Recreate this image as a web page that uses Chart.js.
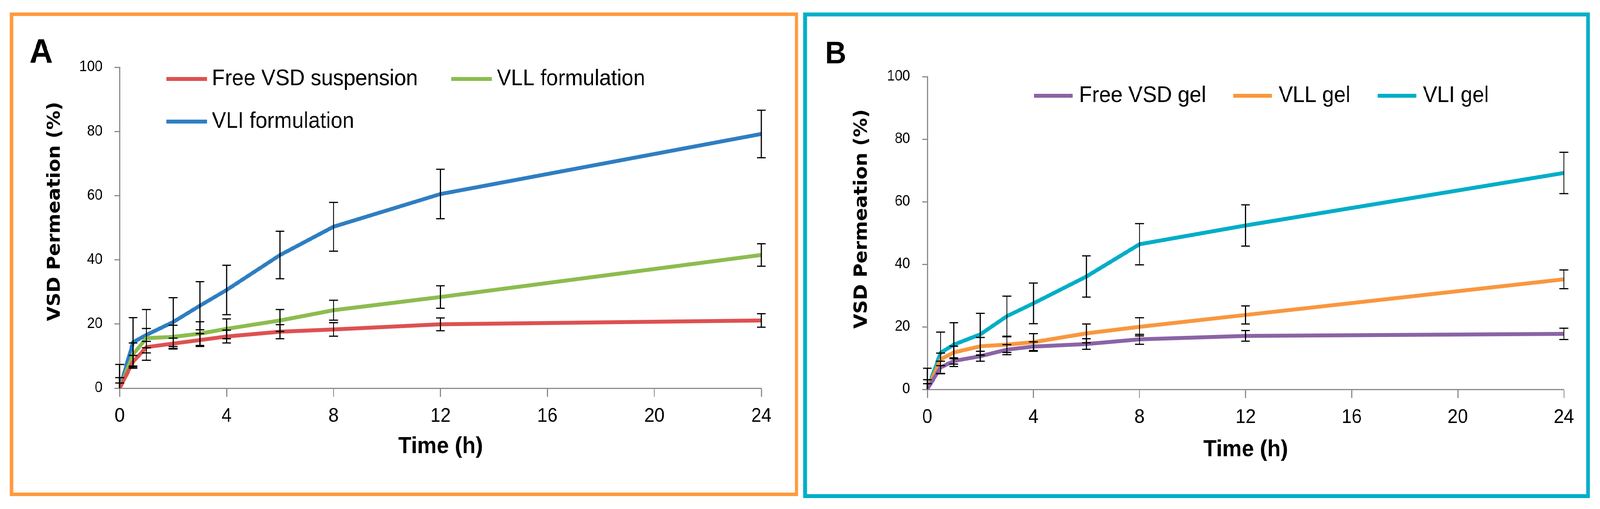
<!DOCTYPE html>
<html>
<head>
<meta charset="utf-8">
<script src="https://cdn.jsdelivr.net/npm/chart.js@4.4.1/dist/chart.umd.min.js"></script>
<style>
  html, body { margin: 0; padding: 0; background: #fff; overflow: hidden; }
  #stage { width: 4386px; height: 1302px; position: absolute; left: 0; top: 0; transform-origin: 0 0; background: #fff; }
  .panel { position: absolute; box-sizing: border-box; background: #fff; }
  #panelA { left: 27px; top: 32px; width: 2161px; height: 1237px; border: 9px solid #FF9A3C; }
  #panelB { left: 2202px; top: 32px; width: 2156px; height: 1242px; border: 10px solid #00AEC8; }
  canvas { display: block; }
</style>
</head>
<body>
<div id="stage">
  <div class="panel" id="panelA"><canvas id="chartA" width="2143" height="1219"></canvas></div>
  <div class="panel" id="panelB"><canvas id="chartB" width="2136" height="1222"></canvas></div>
</div>
<script>
// sampling times (h)
const timePoints = [0, 0.5, 1, 2, 3, 4, 6, 8, 12, 24];
const xTicks = [0, 4, 8, 12, 16, 20, 24];
const yTicks = [0, 20, 40, 60, 80, 100];

// panel A - formulations
const freeSuspension = [0, 8.2, 12.8, 13.9, 15.0, 16.1, 17.6, 18.3, 19.9, 21.1];
const freeSuspensionErr = [1.6, 2.0, 1.8, 1.7, 2.0, 2.0, 2.2, 2.1, 2.0, 2.1];
const vllFormulation = [0, 10.5, 15.6, 16.0, 17.0, 18.5, 21.1, 24.3, 28.4, 41.5];
const vllFormulationErr = [3.3, 3.6, 3.0, 3.6, 3.7, 3.1, 3.4, 3.1, 3.5, 3.5];
const vliFormulation = [0, 14.3, 16.6, 20.6, 25.7, 30.6, 41.5, 50.3, 60.5, 79.2];
const vliFormulationErr = [7.4, 7.7, 7.9, 7.6, 7.5, 7.7, 7.4, 7.6, 7.7, 7.4];

// panel B - gels
const freeGel = [0, 7.0, 9.1, 10.6, 12.7, 13.7, 14.5, 16.0, 17.1, 17.75];
const freeGelErr = [1.8, 2.0, 1.0, 1.6, 1.6, 1.5, 1.7, 1.6, 1.7, 1.8];
const vllGel = [0, 9.6, 11.8, 13.8, 14.3, 15.1, 17.9, 20.0, 23.8, 35.2];
const vllGelErr = [3.1, 2.0, 2.0, 2.8, 2.5, 2.7, 3.0, 2.9, 2.9, 3.0];
const vliGel = [0, 11.7, 14.3, 17.6, 23.4, 27.5, 36.1, 46.4, 52.4, 69.2];
const vliGelErr = [6.75, 6.6, 7.0, 6.7, 6.4, 6.5, 6.6, 6.6, 6.6, 6.6];

const AXIS_GREY = '#8c8c8c';

// the figure is laid out at 4386x1302, fit it to whatever the viewport really is
function fitStage() {
    const stage = document.getElementById('stage');
    const sx = window.innerWidth / 4386;
    const sy = window.innerHeight / 1302;
    stage.style.transform = 'scale(' + sx + ',' + sy + ')';
}

function toPoints(values) {
    return timePoints.map((t, i) => ({ x: t, y: values[i] }));
}

function lineSet(label, values, errors, color) {
    return {
        label: label,
        data: toPoints(values),
        errorBars: errors,
        borderColor: color,
        backgroundColor: color,
        borderWidth: 10,
        tension: 0,
        pointRadius: 0,
        fill: false
    };
}

// error bars, panel letter, rotated y title and the in-plot legend
const panelDecor = {
    id: 'panelDecor',
    afterDatasetsDraw(chart) {
        const ctx = chart.ctx;
        const xs = chart.scales.x, ys = chart.scales.y;
        ctx.save();
        ctx.strokeStyle = '#000';
        ctx.lineWidth = 3;
        chart.data.datasets.forEach((ds) => {
            if (!ds.errorBars) return;
            ds.data.forEach((p, j) => {
                const e = ds.errorBars[j];
                const px = xs.getPixelForValue(p.x);
                const lo = Math.max(p.y - e, ys.min);
                const top = ys.getPixelForValue(p.y + e);
                const bot = ys.getPixelForValue(lo);
                ctx.beginPath();
                ctx.moveTo(px, top); ctx.lineTo(px, bot);
                ctx.moveTo(px - 12, top); ctx.lineTo(px + 12, top);
                if (lo > ys.min) { ctx.moveTo(px - 12, bot); ctx.lineTo(px + 12, bot); }
                ctx.stroke();
            });
        });
        ctx.restore();
    },
    afterDraw(chart, args, opts) {
        const ctx = chart.ctx;
        ctx.save();
        ctx.fillStyle = '#000';

        // panel letter
        ctx.font = 'bold ' + opts.letterSize + 'px "Liberation Sans"';
        ctx.textAlign = 'left';
        ctx.textBaseline = 'alphabetic';
        ctx.fillText(opts.letter, opts.letterX, opts.letterY);

        // y axis title
        ctx.save();
        ctx.translate(opts.yTitleX, opts.yTitleY);
        ctx.rotate(-Math.PI / 2);
        ctx.font = 'bold 49px "DejaVu Sans"';
        ctx.textAlign = 'center';
        ctx.textBaseline = 'middle';
        ctx.fillText(opts.yTitle, 0, 0);
        ctx.restore();

        // legend
        const lg = opts.legend;
        ctx.font = '58px "Liberation Sans"';
        ctx.textAlign = 'left';
        ctx.textBaseline = 'middle';
        lg.rows.forEach((row, r) => {
            let x = lg.x;
            const y = lg.y + r * lg.rowGap;
            row.forEach((i) => {
                const ds = chart.data.datasets[i];
                ctx.strokeStyle = ds.borderColor;
                ctx.lineWidth = 10;
                ctx.beginPath();
                ctx.moveTo(x, y);
                ctx.lineTo(x + lg.sample, y);
                ctx.stroke();
                ctx.fillText(ds.label, x + lg.sample + lg.textGap, y);
                x += lg.sample + lg.textGap + ctx.measureText(ds.label).width + lg.itemGap;
            });
        });
        ctx.restore();
    }
};

function makeOptions(pad, yWidth, xHeight, titlePad, decor) {
    return {
        responsive: false,
        animation: false,
        devicePixelRatio: 1,
        layout: { padding: pad },
        plugins: {
            legend: { display: false },
            tooltip: { enabled: false },
            panelDecor: decor
        },
        scales: {
            x: {
                type: 'linear',
                min: xTicks[0],
                max: xTicks[xTicks.length - 1],
                afterBuildTicks: (s) => { s.ticks = xTicks.map(v => ({ value: v })); },
                ticks: { color: '#000', padding: 20, font: { family: 'Liberation Sans', size: 50 } },
                grid: { drawOnChartArea: false, tickLength: 22, tickColor: AXIS_GREY, tickWidth: 3 },
                border: { color: AXIS_GREY, width: 3 },
                title: {
                    display: true,
                    text: 'Time (h)',
                    color: '#000',
                    font: { family: 'Liberation Sans', size: 60, weight: 'bold', lineHeight: 1.2 },
                    padding: { top: 0, bottom: titlePad }
                },
                afterFit: (s) => { s.height = xHeight; }
            },
            y: {
                min: yTicks[0],
                max: yTicks[yTicks.length - 1],
                afterBuildTicks: (s) => { s.ticks = yTicks.map(v => ({ value: v })); },
                ticks: { color: '#000', padding: 33, font: { family: 'Liberation Sans', size: 38 } },
                grid: { drawOnChartArea: false, tickLength: 14, tickColor: AXIS_GREY, tickWidth: 3 },
                border: { color: AXIS_GREY, width: 3 },
                afterFit: (s) => { s.width = yWidth; }
            }
        }
    };
}

document.addEventListener('DOMContentLoaded', function () {
    fitStage();

    // A. Suspension / lipid formulations
    new Chart(document.getElementById('chartA').getContext('2d'), {
        type: 'line',
        data: {
            datasets: [
                lineSet('Free VSD suspension', freeSuspension, freeSuspensionErr, '#DD5151'),
                lineSet('VLL formulation', vllFormulation, vllFormulationErr, '#8DBC4F'),
                lineSet('VLI formulation', vliFormulation, vliFormulationErr, '#2E7EC2')
            ]
        },
        options: makeOptions({ left: 0, top: 131, right: 92, bottom: 0 }, 292, 267, 82, {
            letter: 'A', letterSize: 88, letterX: 45, letterY: 119,
            yTitle: 'VSD Permeation (%)', yTitleX: 115, yTitleY: 500,
            legend: { x: 420, y: 161, rowGap: 109, sample: 111, textGap: 14, itemGap: 92, rows: [[0, 1], [2]] }
        }),
        plugins: [panelDecor]
    });

    // B. Gels
    new Chart(document.getElementById('chartB').getContext('2d'), {
        type: 'line',
        data: {
            datasets: [
                lineSet('Free VSD gel', freeGel, freeGelErr, '#8A64A6'),
                lineSet('VLL gel', vllGel, vllGelErr, '#F9973F'),
                lineSet('VLI gel', vliGel, vliGelErr, '#00AEC6')
            ]
        },
        options: makeOptions({ left: 0, top: 154, right: 61, bottom: 0 }, 330, 268, 78, {
            letter: 'B', letterSize: 80, letterX: 50, letterY: 120,
            yTitle: 'VSD Permeation (%)', yTitleX: 151, yTitleY: 518,
            legend: { x: 622, y: 203, rowGap: 109, sample: 106, textGap: 18, itemGap: 75, rows: [[0, 1, 2]] }
        }),
        plugins: [panelDecor]
    });
});

window.addEventListener('resize', fitStage);
</script>
</body>
</html>
